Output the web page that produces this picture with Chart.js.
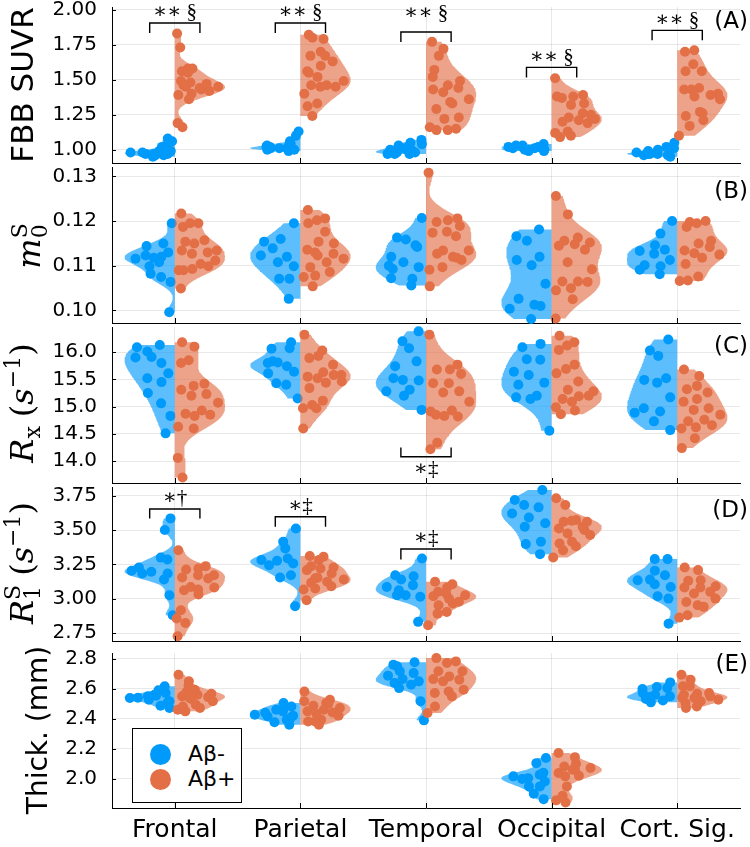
<!DOCTYPE html>
<html>
<head>
<meta charset="utf-8">
<script src="https://cdn.jsdelivr.net/npm/chart.js@4.4.0/dist/chart.umd.min.js"></script>
<style>
  body { margin: 0; background: #fff; }
  #wrap { position: relative; width: 750px; height: 847px; overflow: hidden; }
  #wrap canvas { position: absolute; left: 0; top: 0; }
  #legend {
    position: absolute; left: 132px; top: 728px; width: 110px; height: 75px;
    box-sizing: border-box; border: 1px solid #000; background: #fff;
    font-family: 'DejaVu Sans'; font-size: 22px; color: #000;
  }
  #legend .dot { position: absolute; left: 17px; width: 21px; height: 21px; border-radius: 50%; }
  #legend .lbl { position: absolute; left: 55px; line-height: 26px; }
</style>
</head>
<body>
<div id="wrap">
  <canvas id="panelA" width="750" height="847"></canvas>
  <canvas id="panelB" width="750" height="847"></canvas>
  <canvas id="panelC" width="750" height="847"></canvas>
  <canvas id="panelD" width="750" height="847"></canvas>
  <canvas id="panelE" width="750" height="847"></canvas>
  <div id="legend">
    <div class="dot" style="top:15px;background:#009AFA"></div><div class="lbl" style="top:12px">Aβ-</div>
    <div class="dot" style="top:40px;background:#E36F47"></div><div class="lbl" style="top:37px">Aβ+</div>
  </div>
</div>
<script>
// Regions on the x axis
const categories = ["Frontal", "Parietal", "Temporal", "Occipital", "Cort. Sig."];

// (A) FBB SUVR, one list per region
const suvrNeg = [
  [0.99, 0.98, 0.97, 0.96, 0.95, 0.96, 0.97, 0.98, 1.00, 1.02, 1.04, 1.06, 1.08, 0.97, 0.99],
  [1.04, 1.03, 1.01, 1.01, 1.00, 0.99, 1.00, 1.02, 1.04, 1.06, 1.10, 1.13, 1.02, 1.01],
  [0.97, 0.97, 0.98, 0.99, 1.00, 1.02, 1.04, 1.05, 1.07, 1.03, 1.01, 0.98, 0.97, 1.00],
  [1.04, 1.03, 1.02, 1.02, 1.01, 1.00, 1.00, 0.99, 1.01, 1.02, 1.00, 0.99, 1.03],
  [0.97, 0.98, 0.97, 0.95, 0.96, 0.98, 1.01, 1.02, 1.05, 0.99, 0.97, 0.96, 1.00]
];
const suvrPos = [
  [1.83, 1.73, 1.58, 1.56, 1.58, 1.55, 1.49, 1.47, 1.48, 1.45, 1.43, 1.45, 1.42, 1.40, 1.39, 1.36, 1.19, 1.16, 1.44, 1.46],
  [1.82, 1.79, 1.70, 1.67, 1.63, 1.60, 1.56, 1.67, 1.52, 1.49, 1.46, 1.46, 1.45, 1.45, 1.40, 1.33, 1.31, 1.24, 1.80, 1.55],
  [1.77, 1.72, 1.67, 1.57, 1.49, 1.46, 1.43, 1.44, 1.41, 1.36, 1.33, 1.29, 1.23, 1.22, 1.16, 1.14, 1.14, 1.15, 1.34, 1.52],
  [1.51, 1.39, 1.38, 1.37, 1.33, 1.32, 1.38, 1.26, 1.23, 1.22, 1.21, 1.20, 1.19, 1.13, 1.12, 1.10, 1.09, 1.25],
  [1.70, 1.71, 1.61, 1.56, 1.56, 1.44, 1.43, 1.39, 1.38, 1.36, 1.27, 1.24, 1.21, 1.17, 1.10, 1.26, 1.43, 1.40]
];
const suvrTicks = [1.00, 1.25, 1.50, 1.75, 2.00];

// (B) m0S
const m0Neg = [
  [0.1195, 0.1144, 0.1123, 0.1120, 0.1116, 0.1150, 0.1130, 0.1099, 0.1108, 0.1082, 0.1075, 0.1064, 0.0996, 0.1118],
  [0.1195, 0.1154, 0.1139, 0.1120, 0.1123, 0.1108, 0.1099, 0.1071, 0.1071, 0.1026, 0.1160],
  [0.1207, 0.1163, 0.1159, 0.1146, 0.1120, 0.1108, 0.1097, 0.1093, 0.1071, 0.1072, 0.1056, 0.1142, 0.1100],
  [0.1181, 0.1166, 0.1156, 0.1120, 0.1113, 0.1101, 0.1060, 0.1026, 0.1013, 0.1004, 0.0981, 0.1010],
  [0.1200, 0.1172, 0.1146, 0.1136, 0.1133, 0.1127, 0.1113, 0.1101, 0.1099, 0.1091, 0.1081]
];
const m0Pos = [
  [0.1217, 0.1195, 0.1195, 0.1154, 0.1157, 0.1150, 0.1134, 0.1130, 0.1127, 0.1134, 0.1104, 0.1090, 0.1099, 0.1093, 0.1090, 0.1049, 0.1187, 0.1112],
  [0.1225, 0.1206, 0.1202, 0.1195, 0.1176, 0.1154, 0.1136, 0.1127, 0.1123, 0.1116, 0.1108, 0.1097, 0.1086, 0.1078, 0.1075, 0.1054, 0.1130, 0.1150],
  [0.1308, 0.1206, 0.1202, 0.1198, 0.1189, 0.1176, 0.1174, 0.1166, 0.1134, 0.1134, 0.1120, 0.1127, 0.1113, 0.1097, 0.1091, 0.1118, 0.1054],
  [0.1256, 0.1215, 0.1163, 0.1156, 0.1152, 0.1148, 0.1145, 0.1136, 0.1108, 0.1092, 0.1065, 0.1065, 0.1064, 0.1050, 0.1045, 0.1025, 0.0982],
  [0.1198, 0.1200, 0.1195, 0.1187, 0.1156, 0.1150, 0.1134, 0.1142, 0.1128, 0.1125, 0.1118, 0.1104, 0.1076, 0.1067, 0.1066]
];
const m0Ticks = [0.10, 0.11, 0.12, 0.13];

// (C) Rx (1/s)
const rxNeg = [
  [16.13, 16.09, 16.01, 15.80, 15.90, 15.91, 15.61, 15.52, 15.45, 15.25, 15.06, 14.83, 14.51],
  [16.18, 16.06, 15.83, 15.74, 15.61, 15.81, 15.64, 15.80, 16.07, 15.43, 15.40, 15.15],
  [16.38, 16.20, 16.07, 15.83, 15.74, 15.49, 15.48, 15.52, 15.31, 15.28, 15.20, 14.94],
  [16.15, 16.09, 15.87, 15.86, 15.64, 15.58, 15.44, 15.40, 15.20, 15.17, 15.14, 14.56],
  [16.23, 16.03, 15.93, 15.52, 15.49, 15.44, 15.17, 14.97, 14.91, 14.89, 14.73, 14.57]
];
const rxPos = [
  [16.18, 16.10, 15.85, 15.80, 15.42, 15.38, 15.31, 15.23, 15.20, 15.07, 14.93, 14.87, 14.85, 14.83, 14.63, 14.60, 14.06, 13.70],
  [16.32, 16.03, 15.93, 15.89, 15.77, 15.63, 15.55, 15.58, 15.52, 15.46, 15.44, 15.34, 15.11, 15.03, 14.97, 14.97, 14.60, 15.58],
  [16.32, 15.77, 15.68, 15.68, 15.60, 15.43, 15.43, 15.28, 15.26, 15.09, 14.93, 14.85, 14.82, 14.83, 14.91, 14.34, 14.22],
  [16.30, 16.18, 16.12, 16.04, 15.77, 15.69, 15.61, 15.46, 15.31, 15.28, 15.19, 15.14, 15.20, 15.09, 14.99, 14.93, 14.86],
  [15.68, 15.56, 15.38, 15.32, 15.26, 15.14, 15.09, 14.97, 14.94, 14.85, 14.76, 14.73, 14.66, 14.62, 14.60, 14.42, 14.24]
];
const rxTicks = [14.0, 14.5, 15.0, 15.5, 16.0];

// (D) R1S (1/s)
const r1Neg = [
  [3.585, 3.50, 3.30, 3.286, 3.228, 3.197, 3.185, 3.185, 3.141, 3.205, 3.027, 2.881],
  [3.512, 3.415, 3.367, 3.294, 3.282, 3.277, 3.258, 3.245, 3.172, 3.155, 2.947],
  [3.294, 3.172, 3.141, 3.100, 3.087, 3.027, 3.015, 3.027, 3.165, 2.833, 3.063],
  [3.791, 3.718, 3.682, 3.665, 3.621, 3.592, 3.549, 3.524, 3.415, 3.398, 3.325],
  [3.289, 3.289, 3.204, 3.172, 3.136, 3.107, 3.087, 3.019, 3.002, 2.820, 3.140]
];
const r1Pos = [
  [3.354, 3.238, 3.221, 3.214, 3.172, 3.172, 3.155, 3.148, 3.087, 3.083, 3.068, 3.063, 3.032, 2.917, 2.857, 2.825, 2.728],
  [3.311, 3.306, 3.282, 3.238, 3.228, 3.221, 3.209, 3.185, 3.153, 3.141, 3.124, 3.117, 3.092, 3.075, 3.068, 2.990, 3.150],
  [3.124, 3.107, 3.083, 3.051, 3.027, 3.002, 3.019, 2.966, 2.954, 2.905, 2.893, 2.808, 2.980, 3.040],
  [3.731, 3.682, 3.573, 3.561, 3.561, 3.568, 3.512, 3.500, 3.476, 3.464, 3.415, 3.403, 3.383, 3.354, 3.301, 3.524],
  [3.228, 3.209, 3.136, 3.131, 3.092, 3.083, 3.083, 3.051, 3.039, 3.002, 2.954, 2.978, 2.942, 2.881, 2.864]
];
const r1Ticks = [2.75, 3.00, 3.25, 3.50, 3.75];

// (E) cortical thickness (mm)
const thickNeg = [
  [2.553, 2.538, 2.527, 2.571, 2.589, 2.560, 2.516, 2.487, 2.471, 2.616, 2.549, 2.509, 2.540],
  [2.449, 2.427, 2.460, 2.482, 2.504, 2.482, 2.420, 2.416, 2.393, 2.376, 2.360, 2.404, 2.440],
  [2.776, 2.760, 2.716, 2.704, 2.687, 2.664, 2.649, 2.638, 2.627, 2.604, 2.516, 2.389, 2.749],
  [2.138, 2.104, 1.998, 2.027, 2.016, 2.004, 1.982, 1.949, 1.949, 1.900, 1.864, 2.040],
  [2.642, 2.598, 2.611, 2.604, 2.571, 2.560, 2.549, 2.531, 2.522, 2.509, 2.544]
];
const thickPos = [
  [2.693, 2.649, 2.593, 2.576, 2.567, 2.560, 2.549, 2.544, 2.531, 2.516, 2.493, 2.482, 2.471, 2.449, 2.460, 2.620, 2.540],
  [2.582, 2.527, 2.504, 2.487, 2.471, 2.460, 2.449, 2.442, 2.433, 2.420, 2.393, 2.382, 2.360, 2.382, 2.516, 2.500],
  [2.804, 2.782, 2.771, 2.716, 2.716, 2.682, 2.664, 2.660, 2.649, 2.593, 2.582, 2.571, 2.549, 2.482, 2.438],
  [2.171, 2.144, 2.100, 2.082, 2.071, 2.060, 2.038, 2.020, 2.016, 1.949, 1.887, 1.856, 1.842, 2.060],
  [2.693, 2.660, 2.616, 2.616, 2.571, 2.567, 2.560, 2.549, 2.538, 2.527, 2.516, 2.504, 2.482, 2.471, 2.540]
];
const thickTicks = [2.0, 2.2, 2.4, 2.6, 2.8];

// significance brackets (region index, text, bracket level, leg end, text level)
const suvrSig = [
  { cat: 0, text: "∗∗ §", bar: 1.905, leg: 1.834, at: 1.98 },
  { cat: 1, text: "∗∗ §", bar: 1.905, leg: 1.834, at: 1.98 },
  { cat: 2, text: "∗∗ §", bar: 1.840, leg: 1.769, at: 1.975 },
  { cat: 3, text: "∗∗ §", bar: 1.588, leg: 1.516, at: 1.66 },
  { cat: 4, text: "∗∗ §", bar: 1.852, leg: 1.781, at: 1.92 }
];
const rxSig = [
  { cat: 2, text: "∗‡", bar: 14.08, leg: 14.25, at: 13.84 }
];
const r1Sig = [
  { cat: 0, text: "∗†", bar: 3.653, leg: 3.585, at: 3.731 },
  { cat: 1, text: "∗‡", bar: 3.597, leg: 3.524, at: 3.675 },
  { cat: 2, text: "∗‡", bar: 3.362, leg: 3.287, at: 3.44 }
];

// colours
const blue = "#009AFA";
const orange = "#E36F47";
const blueFill = "rgba(0,154,250,0.64)";
const orangeFill = "rgba(227,111,71,0.64)";
const gridColor = "rgba(0,0,0,0.09)";

// fonts for the axis titles
const sansTitle = "31px 'DejaVu Sans'";
const mathIt = "italic 32px 'DejaVu Serif'";
const mathUp = "32px 'DejaVu Serif'";
const mathSmall = "22px 'DejaVu Serif'";

const panels = [
  { id: "panelA", neg: suvrNeg, pos: suvrPos, ticks: suvrTicks, digits: 2, min: 0.905, max: 2.019,
    top: 7, bottom: 163, sig: suvrSig, letter: "(A)", letterY: 22,
    title: [{ t: "FBB SUVR", font: sansTitle }], titleX: 33, titleY: 85 },
  { id: "panelB", neg: m0Neg, pos: m0Pos, ticks: m0Ticks, digits: 2, min: 0.0972, max: 0.1321,
    top: 167, bottom: 323, sig: [], letter: "(B)", letterY: 192,
    title: [{ t: "m", font: mathIt }, { t: "0", font: mathSmall, dy: 7, stay: true }, { t: "S", font: mathSmall, dy: -13 }],
    titleX: 40, titleY: 246 },
  { id: "panelC", neg: rxNeg, pos: rxPos, ticks: rxTicks, digits: 1, min: 13.60, max: 16.46,
    top: 327, bottom: 483, sig: rxSig, letter: "(C)", letterY: 347,
    title: [{ t: "R", font: mathIt }, { t: "x", font: mathSmall, dy: 7 }, { gap: 9 },
            { t: "(", font: mathUp }, { t: "s", font: mathIt }, { t: "−1", font: mathSmall, dy: -13 }, { t: ")", font: mathUp }],
    titleX: 33, titleY: 403 },
  { id: "panelD", neg: r1Neg, pos: r1Pos, ticks: r1Ticks, digits: 2, min: 2.694, max: 3.813,
    top: 487, bottom: 641, sig: r1Sig, letter: "(D)", letterY: 511,
    title: [{ t: "R", font: mathIt }, { t: "1", font: mathSmall, dy: 7, stay: true }, { t: "S", font: mathSmall, dy: -13 }, { gap: 9 },
            { t: "(", font: mathUp }, { t: "s", font: mathIt }, { t: "−1", font: mathSmall, dy: -13 }, { t: ")", font: mathUp }],
    titleX: 33, titleY: 563 },
  { id: "panelE", neg: thickNeg, pos: thickPos, ticks: thickTicks, digits: 1, min: 1.805, max: 2.838,
    top: 653, bottom: 808, sig: [], letter: "(E)", letterY: 665, xLabels: true,
    title: [{ t: "Thick. (mm)", font: "28px 'DejaVu Sans'" }], titleX: 47, titleY: 730 }
];

// Silverman bandwidth, same rule as KernelDensity.jl
function bandwidth(values) {
  const n = values.length;
  const mean = values.reduce((a, b) => a + b, 0) / n;
  const sd = Math.sqrt(values.reduce((a, b) => a + (b - mean) ** 2, 0) / (n - 1));
  const s = [...values].sort((a, b) => a - b);
  const q = (p) => {
    const h = (n - 1) * p;
    const lo = Math.floor(h);
    return s[lo] + (h - lo) * (s[Math.min(lo + 1, n - 1)] - s[lo]);
  };
  const iqr = (q(0.75) - q(0.25)) / 1.34;
  return 0.9 * Math.min(sd, iqr) * Math.pow(n, -0.2);
}

function density(values, bw, y) {
  let sum = 0;
  for (const v of values) sum += Math.exp(-0.5 * ((y - v) / bw) ** 2);
  return sum;
}

// one half violin plus its dots; dir = -1 left side, +1 right side
function addSide(sets, values, center, dir, color, fill, order) {
  const bw = bandwidth(values);
  const lo = Math.min(...values);
  const hi = Math.max(...values);
  const steps = 90;
  const ys = [];
  for (let i = 0; i <= steps; i++) ys.push(lo + (hi - lo) * i / steps);
  const dens = ys.map((y) => density(values, bw, y));
  const peak = Math.max(...dens);
  const half = 0.4;

  const outline = [{ x: center, y: lo }];
  ys.forEach((y, i) => outline.push({ x: center + dir * half * dens[i] / peak, y: y }));
  outline.push({ x: center, y: hi });
  sets.push({
    data: outline, showLine: true, fill: "shape", tension: 0,
    backgroundColor: fill, borderColor: "rgba(0,0,0,0)", borderWidth: 0,
    pointRadius: 0, pointHitRadius: 0, order: order
  });

  // dots spread inside the violin, in proportion to the density
  const dots = values.map((y, i) => {
    const u = 0.08 + 0.84 * ((0.37 + i * 0.618034) % 1);
    return { x: center + dir * u * half * density(values, bw, y) / peak, y: y };
  });
  sets.push({
    data: dots, pointBackgroundColor: color, backgroundColor: color,
    pointBorderColor: "rgba(0,0,0,0)", pointBorderWidth: 0,
    pointRadius: 5, clip: false, order: order - 1
  });
}

function buildDatasets(neg, pos) {
  const sets = [];
  for (let c = 0; c < categories.length; c++) {
    addSide(sets, neg[c], c + 1, -1, blue, blueFill, 4);
    addSide(sets, pos[c], c + 1, 1, orange, orangeFill, 2);
  }
  return sets;
}

// rotated axis title made of pieces (for sub/superscripts)
function drawTitle(ctx, segs, bx, cy) {
  ctx.save();
  ctx.translate(bx, cy);
  ctx.rotate(-Math.PI / 2);
  ctx.textAlign = "left";
  ctx.textBaseline = "alphabetic";
  ctx.fillStyle = "#000";
  let cursor = 0;
  let total = 0;
  const placed = [];
  for (const s of segs) {
    if (s.gap) { cursor += s.gap; continue; }
    ctx.font = s.font;
    const w = ctx.measureText(s.t).width;
    placed.push({ s: s, x: cursor });
    total = Math.max(total, cursor + w);
    if (!s.stay) cursor += w;
  }
  for (const p of placed) {
    ctx.font = p.s.font;
    ctx.fillText(p.s.t, p.x - total / 2, p.s.dy || 0);
  }
  ctx.restore();
}

function decorPlugin(p) {
  return {
    id: "decor",
    afterDraw(chart) {
      const ctx = chart.ctx;
      const xs = chart.scales.x;
      const ys = chart.scales.y;
      const area = chart.chartArea;
      ctx.save();
      ctx.strokeStyle = "#000";
      ctx.lineWidth = 1;

      // tick marks pointing inwards
      ctx.beginPath();
      p.ticks.forEach((v) => {
        const py = Math.round(ys.getPixelForValue(v)) + 0.5;
        ctx.moveTo(area.left, py);
        ctx.lineTo(area.left + 4, py);
      });
      categories.forEach((c, i) => {
        const px = Math.round(xs.getPixelForValue(i + 1)) + 0.5;
        ctx.moveTo(px, area.bottom);
        ctx.lineTo(px, area.bottom - 5);
      });
      ctx.stroke();

      // significance brackets
      ctx.lineWidth = 1.4;
      ctx.fillStyle = "#000";
      ctx.font = "21px 'Liberation Serif', 'DejaVu Serif'";
      ctx.textAlign = "center";
      ctx.textBaseline = "middle";
      p.sig.forEach((s) => {
        const x0 = xs.getPixelForValue(s.cat + 1 - 0.2);
        const x1 = xs.getPixelForValue(s.cat + 1 + 0.2);
        const yb = ys.getPixelForValue(s.bar);
        const yl = ys.getPixelForValue(s.leg);
        ctx.beginPath();
        ctx.moveTo(x0, yl);
        ctx.lineTo(x0, yb);
        ctx.lineTo(x1, yb);
        ctx.lineTo(x1, yl);
        ctx.stroke();
        ctx.fillText(s.text, xs.getPixelForValue(s.cat + 1), ys.getPixelForValue(s.at));
      });

      // panel letter
      ctx.font = "23px 'DejaVu Sans'";
      ctx.textAlign = "right";
      ctx.fillText(p.letter, 748, p.letterY);
      ctx.restore();

      drawTitle(ctx, p.title, p.titleX, p.titleY);
    }
  };
}

Chart.defaults.font.family = "'DejaVu Sans'";
Chart.defaults.color = "#000";

panels.forEach((p) => {
  const xHeight = p.xLabels ? 39 : 0;
  new Chart(document.getElementById(p.id), {
    type: "scatter",
    data: { datasets: buildDatasets(p.neg, p.pos) },
    options: {
      responsive: false,
      animation: false,
      events: [],
      layout: { padding: { top: p.top, bottom: 847 - p.bottom - xHeight, left: 0, right: 10 } },
      plugins: { legend: { display: false }, tooltip: { enabled: false } },
      scales: {
        x: {
          type: "linear", min: 0.5, max: 5.5,
          afterBuildTicks: (s) => { s.ticks = categories.map((c, i) => ({ value: i + 1 })); },
          afterFit: (s) => { s.height = xHeight; s.paddingLeft = 0; s.paddingRight = 0; },
          grid: { color: gridColor, drawTicks: false },
          border: { color: "#000", width: 1 },
          ticks: {
            display: !!p.xLabels, autoSkip: false, maxRotation: 0, padding: 7,
            font: { size: 25 }, color: "#000",
            callback: (v) => categories[Math.round(v) - 1]
          }
        },
        y: {
          type: "linear", min: p.min, max: p.max,
          afterBuildTicks: (s) => { s.ticks = p.ticks.map((v) => ({ value: v })); },
          afterFit: (s) => { s.width = 112; s.paddingTop = 0; s.paddingBottom = 0; },
          grid: { color: gridColor, drawTicks: false },
          border: { color: "#000", width: 1 },
          ticks: {
            padding: 15, font: { size: 20 }, color: "#000",
            callback: (v) => v.toFixed(p.digits)
          }
        }
      }
    },
    plugins: [decorPlugin(p)]
  });
});
</script>
</body>
</html>
